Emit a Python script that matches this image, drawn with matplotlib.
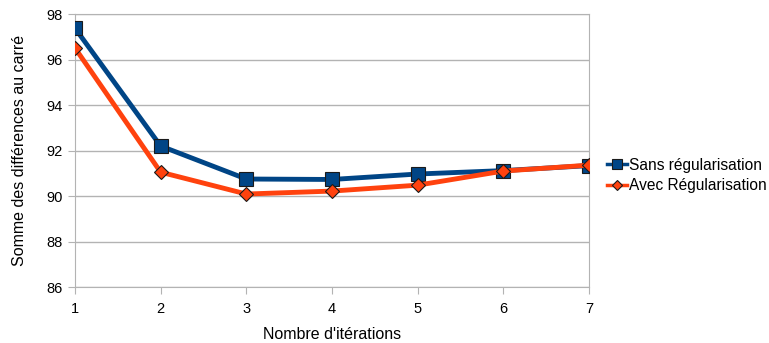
import matplotlib
matplotlib.use("Agg")
import matplotlib.pyplot as plt

plt.rcParams['font.family'] = ['Liberation Sans', 'DejaVu Sans']

iterations = [1, 2, 3, 4, 5, 6, 7]
sans_reg = [97.38, 92.20, 90.75, 90.73, 90.97, 91.12, 91.34]
avec_reg = [96.51, 91.05, 90.09, 90.22, 90.48, 91.10, 91.36]

fig = plt.figure(figsize=(7.69, 3.43), dpi=100)
ax = fig.add_axes([0.0975, 0.163, 0.6685, 0.796])

ax.plot(iterations, sans_reg, color='#004586', lw=3.5, marker='s', ms=10,
        mfc='#004586', mec='#1a1a1a', mew=0.8, label='Sans régularisation', zorder=3)
ax.plot(iterations, avec_reg, color='#ff420e', lw=3.5, marker='D', ms=7.5,
        mfc='#ff420e', mec='#1a1a1a', mew=0.8, label='Avec Régularisation', zorder=4)

ax.set_xlim(1, 7)
ax.set_ylim(86, 98)
ax.set_xticks(iterations)
ax.set_yticks(range(86, 99, 2))
ax.yaxis.grid(True, color='#b3b3b3', lw=1)
ax.set_axisbelow(True)
for s in ax.spines.values():
    s.set_color('#b3b3b3')
ax.tick_params(colors='#b3b3b3', labelcolor='black', labelsize=10.5, length=5)
ax.tick_params(axis='y', pad=4)
ax.tick_params(axis='x', pad=6)

ax.set_xlabel("Nombre d'itérations", fontsize=11.5, labelpad=8)
ax.set_ylabel('Somme des différences au carré', fontsize=11.5, labelpad=14)

leg = fig.legend(loc='center left', bbox_to_anchor=(0.783, 0.488), frameon=False,
                 fontsize=11.2, handlelength=1.3, handletextpad=0.15, labelspacing=0.35,
                 markerscale=0.65, borderaxespad=0, borderpad=0.3)
for h in leg.legend_handles:
    h.set_linewidth(2.5)

fig.savefig('out.png', dpi=100)
